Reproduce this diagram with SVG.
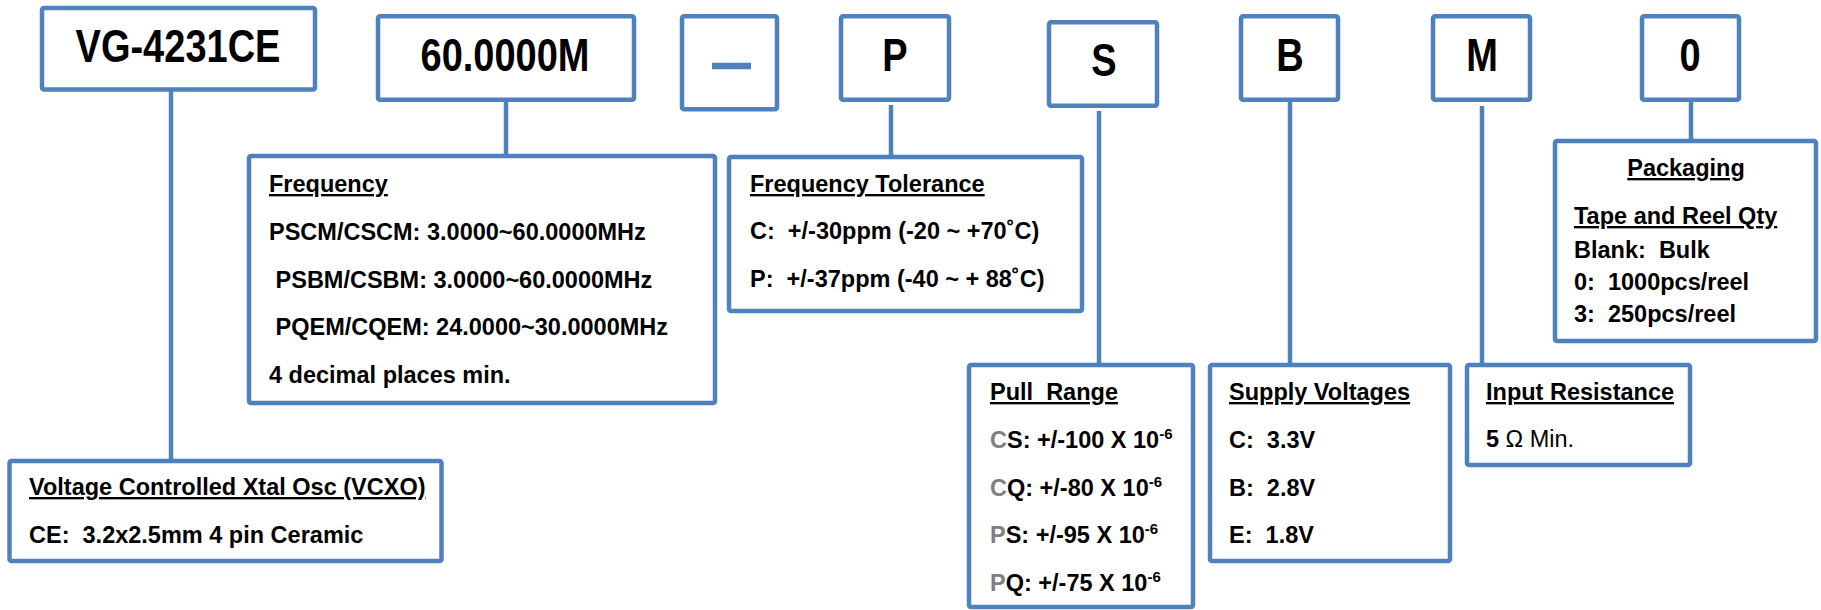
<svg xmlns="http://www.w3.org/2000/svg" width="1821" height="610" viewBox="0 0 1821 610">
<style>
.box{fill:#fff;stroke:#4f81bd;stroke-width:4.5}
.con line{stroke:#4f81bd;stroke-width:4.5}
text{font-family:"Liberation Sans",Arial,sans-serif;font-weight:bold;fill:#000;white-space:pre}
.big{font-size:38px;text-anchor:middle}
.t{font-size:23.5px}
.u{text-decoration:underline}
.g{fill:#7f7f7f}
.sup{font-size:15px}
.n{font-weight:normal}
</style>
<rect width="1821" height="610" fill="#fff"/>
<g id="connectors" class="con">
<line x1="171" y1="91" x2="171" y2="461"/>
<line x1="506" y1="100" x2="506" y2="156"/>
<line x1="891" y1="105" x2="891" y2="157"/>
<line x1="1099" y1="111" x2="1099" y2="365"/>
<line x1="1290" y1="100" x2="1290" y2="365"/>
<line x1="1482" y1="106" x2="1482" y2="365"/>
<line x1="1691" y1="100" x2="1691" y2="141"/>
</g>
<g id="code-vg">
<rect class="box" x="42" y="8" width="273" height="81.5" rx="2"/>
<text class="big" transform="translate(178,62) scale(1,1.24)">VG-4231CE</text>
</g>
<g id="code-freq">
<rect class="box" x="378" y="16.25" width="256" height="83.5" rx="2"/>
<text class="big" transform="translate(505,70.5) scale(1,1.22)">60.0000M</text>
</g>
<g id="code-dash">
<rect class="box" x="682" y="16.25" width="95" height="93" rx="2"/>
<line x1="712" y1="66" x2="751" y2="66" stroke="#4f81bd" stroke-width="6.5"/>
</g>
<g id="code-p">
<rect class="box" x="841" y="16.25" width="108" height="83.5" rx="2"/>
<text class="big" transform="translate(895,70.5) scale(1,1.22)">P</text>
</g>
<g id="code-s">
<rect class="box" x="1049" y="22.25" width="108" height="83.5" rx="2"/>
<text class="big" transform="translate(1104,75.5) scale(1,1.22)">S</text>
</g>
<g id="code-b">
<rect class="box" x="1241" y="16.25" width="97" height="83.5" rx="2"/>
<text class="big" transform="translate(1290,70.5) scale(1,1.22)">B</text>
</g>
<g id="code-m">
<rect class="box" x="1433" y="16.25" width="97" height="83.5" rx="2"/>
<text class="big" transform="translate(1482,70.5) scale(1,1.22)">M</text>
</g>
<g id="code-0">
<rect class="box" x="1642" y="16.25" width="97" height="83.5" rx="2"/>
<text class="big" transform="translate(1690,70.5) scale(1,1.22)">0</text>
</g>
<g id="vcxo">
<rect class="box" x="9.5" y="461" width="432" height="100" rx="2"/>
<text class="t u" x="29" y="495">Voltage Controlled Xtal Osc (VCXO)</text>
<text class="t" x="29" y="543">CE:  3.2x2.5mm 4 pin Ceramic</text>
</g>
<g id="frequency">
<rect class="box" x="249" y="156" width="466" height="247" rx="2"/>
<text class="t u" x="269" y="192">Frequency</text>
<text class="t" x="269" y="240">PSCM/CSCM: 3.0000~60.0000MHz</text>
<text class="t" x="269" y="288"> PSBM/CSBM: 3.0000~60.0000MHz</text>
<text class="t" x="269" y="335"> PQEM/CQEM: 24.0000~30.0000MHz</text>
<text class="t" x="269" y="383">4 decimal places min.</text>
</g>
<g id="tolerance">
<rect class="box" x="729" y="157" width="353" height="154" rx="2"/>
<text class="t u" x="750" y="192">Frequency Tolerance</text>
<text class="t" x="750" y="239">C:  +/-30ppm (-20 ~ +70˚C)</text>
<text class="t" x="750" y="287">P:  +/-37ppm (-40 ~ + 88˚C)</text>
</g>
<g id="pull-range">
<rect class="box" x="969" y="365" width="224" height="242" rx="2"/>
<text class="t u" x="990" y="400">Pull  Range</text>
<text class="t" x="990" y="448"><tspan class="g">C</tspan>S: +/-100 X 10<tspan class="sup" dy="-9">-6</tspan></text>
<text class="t" x="990" y="496"><tspan class="g">C</tspan>Q: +/-80 X 10<tspan class="sup" dy="-9">-6</tspan></text>
<text class="t" x="990" y="543"><tspan class="g">P</tspan>S: +/-95 X 10<tspan class="sup" dy="-9">-6</tspan></text>
<text class="t" x="990" y="591"><tspan class="g">P</tspan>Q: +/-75 X 10<tspan class="sup" dy="-9">-6</tspan></text>
</g>
<g id="supply">
<rect class="box" x="1210" y="365" width="240" height="196" rx="2"/>
<text class="t u" x="1229" y="400">Supply Voltages</text>
<text class="t" x="1229" y="448">C:  3.3V</text>
<text class="t" x="1229" y="496">B:  2.8V</text>
<text class="t" x="1229" y="543">E:  1.8V</text>
</g>
<g id="input-resistance">
<rect class="box" x="1467" y="365" width="223" height="100" rx="2"/>
<text class="t u" x="1486" y="400">Input Resistance</text>
<text class="t" x="1486" y="447">5<tspan class="n"> Ω Min.</tspan></text>
</g>
<g id="packaging">
<rect class="box" x="1555" y="141" width="261" height="200" rx="2"/>
<text class="t u" x="1686" y="176" text-anchor="middle">Packaging</text>
<text class="t u" x="1574" y="224">Tape and Reel Qty</text>
<text class="t" x="1574" y="258">Blank:  Bulk</text>
<text class="t" x="1574" y="290">0:  1000pcs/reel</text>
<text class="t" x="1574" y="322">3:  250pcs/reel</text>
</g>
</svg>
